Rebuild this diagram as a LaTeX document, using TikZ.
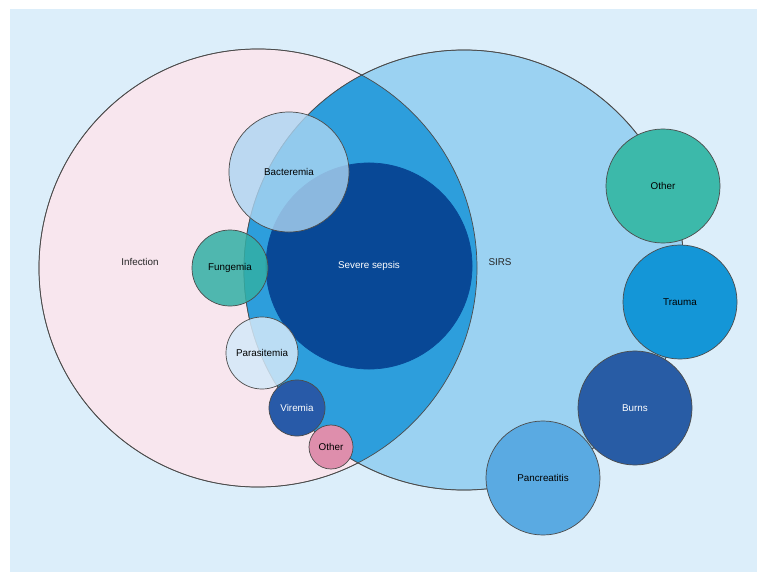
\documentclass[tikz,border=0pt]{standalone}
\usepackage{fontspec}
\setmainfont{Liberation Sans}
\usetikzlibrary{positioning}

\definecolor{bgblue}{RGB}{220,238,250}
\definecolor{infpink}{RGB}{248,230,238}
\definecolor{sirsblue}{RGB}{155,210,242}
\definecolor{midblue}{RGB}{45,158,220}
\definecolor{sepsisblue}{RGB}{8,72,150}
\definecolor{bactblue}{RGB}{172,213,242}
\definecolor{fungteal}{RGB}{50,175,165}
\definecolor{parablue}{RGB}{212,233,249}
\definecolor{virblue}{RGB}{40,90,168}
\definecolor{othpink}{RGB}{222,142,172}
\definecolor{othteal}{RGB}{60,185,170}
\definecolor{traumablue}{RGB}{20,150,215}
\definecolor{burnsblue}{RGB}{40,92,165}
\definecolor{pancblue}{RGB}{90,170,226}

\begin{document}
\begin{tikzpicture}[
    x=0.025cm, y=-0.025cm,
    bub/.style={circle, draw=black!70, line width=0.5pt, inner sep=0pt, font=\scriptsize},
    rad/.style={minimum size=#1*0.05cm},
    lbl/.style={font=\scriptsize, text=black!85}
]

% Frame
\useasboundingbox (0,0) rectangle (757,572);
\fill[bgblue] (10,9) rectangle (757,572);

% Main sets
\node[bub, rad=219, fill=infpink] (inf) at (258,268) {};
\node[bub, rad=220, fill=sirsblue] (sirs) at (464,270) {};
\begin{scope}
  \clip (258,268) circle (219);
  \fill[midblue] (464,270) circle (220);
\end{scope}
\draw[black!70, line width=0.5pt] (258,268) circle (219);
\draw[black!70, line width=0.5pt] (464,270) circle (220);
\node[lbl] (inflbl) at (140,262) {Infection};
\node[lbl] (sirslbl) at (500,262) {SIRS};

% Severe sepsis
\node[bub, rad=103, fill=sepsisblue, draw=sepsisblue, text=white] (sev) at (369,266) {Severe sepsis};

% Infection causes
\node[bub, rad=60, fill=bactblue, fill opacity=0.8, text opacity=1] (bact) at (289,172) {Bacteremia};
\node[bub, rad=38, fill=fungteal, fill opacity=0.85, text opacity=1] (fung) at (230,268) {Fungemia};
\node[bub, rad=36, fill=parablue, fill opacity=0.85, text opacity=1] (para) at (262,353) {Parasitemia};
\node[bub, rad=28, fill=virblue, text=white] (vir) at (297,408) {Viremia};
\node[bub, rad=22, fill=othpink] (othinf) at (331,447) {Other};

% SIRS causes
\node[bub, rad=57, fill=othteal] (othsirs) at (663,186) {Other};
\node[bub, rad=57, fill=traumablue] (trauma) at (680,302) {Trauma};
\node[bub, rad=57, fill=burnsblue, text=white] (burns) at (635,408) {Burns};
\node[bub, rad=57, fill=pancblue] (panc) at (543,478) {Pancreatitis};

\end{tikzpicture}
\end{document}
